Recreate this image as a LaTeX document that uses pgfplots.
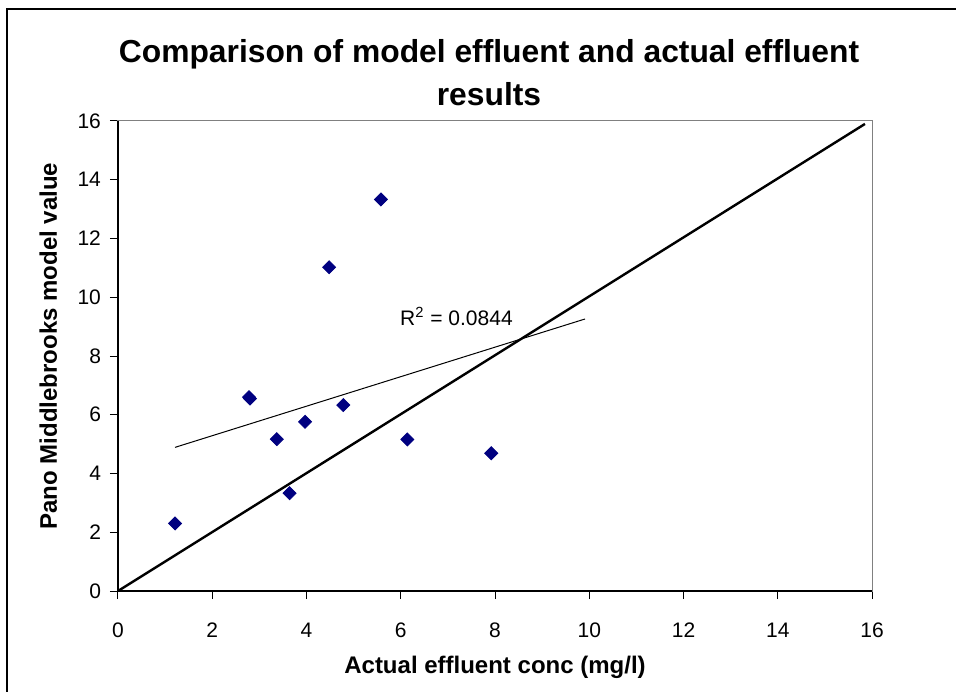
\documentclass[border=0pt]{standalone}
\usepackage{fontspec}
\setmainfont{Liberation Sans}
\usepackage{pgfplots}
\pgfplotsset{compat=1.18}

\definecolor{ptnavy}{RGB}{0,0,128}
\definecolor{frame}{RGB}{128,128,128}

\begin{document}
\begin{tikzpicture}
\begin{axis}[
    at={(0,0)}, anchor=south west,
    scale only axis,
    width=377pt, height=235pt,
    xmin=0, xmax=16, ymin=0, ymax=16,
    xtick={0,2,...,16}, ytick={0,2,...,16},
    xtick pos=bottom, ytick pos=left,
    tick align=outside,
    major tick length=4pt,
    tick style={black, line width=0.5pt},
    axis line style={frame, line width=0.5pt},
    /pgf/number format/assume math mode=true,
    tick label style={font=\fontsize{10.5}{12}\selectfont},
    xticklabel style={anchor=base, yshift=-19pt},
    yticklabel style={anchor=east, xshift=-1pt},
    label style={font=\fontsize{12}{14}\selectfont\bfseries},
    xlabel={Actual effluent conc (mg/l)},
    ylabel={Pano Middlebrooks model value},
    xlabel style={at={(axis description cs:0.5,-0.1745)}, anchor=base},
    ylabel style={at={(axis description cs:-0.081,0.521)}, anchor=base, rotate=0},
    clip=false,
]
% observed vs modelled points
\addplot[only marks, mark=square*, mark size=2.3pt,
         mark options={rotate=45, fill=ptnavy, draw=ptnavy}]
coordinates {
(1.21,2.30)
(2.78,6.60)
(2.80,6.55)
(3.37,5.17)
(3.64,3.33)
(3.97,5.76)
(4.48,11.02)
(4.78,6.33)
(5.58,13.33)
(6.14,5.16)
(7.92,4.69)
};
% linear trendline
\addplot[black, line width=0.5pt] coordinates {(1.21,4.89) (9.91,9.26)};
% 1:1 line
\addplot[black, line width=1.2pt] coordinates {(0,0) (15.85,15.9)};

\draw[black, line width=0.6pt] (rel axis cs:0,1) -- (rel axis cs:0,0) -- (rel axis cs:1,0);
\node[anchor=base west, inner sep=0pt, font=\fontsize{10.5}{12}\selectfont] at (axis cs:5.98,9.03)
    {R\textsuperscript{2} = 0.0844};
\end{axis}

% title
\node[anchor=base, font=\fontsize{15.9}{19}\selectfont\bfseries] at (185.5pt,264pt)
    {Comparison of model effluent and actual effluent};
\node[anchor=base, font=\fontsize{15.9}{19}\selectfont\bfseries] at (185.5pt,242.5pt)
    {results};

% chart frame (cropped at right and bottom)
\draw[black, line width=1pt] (-55.5pt,-70pt) rectangle (440pt,291pt);

\pgfresetboundingbox
\path (-59pt,-50pt) rectangle (419pt,295.5pt);
\end{tikzpicture}
\end{document}
